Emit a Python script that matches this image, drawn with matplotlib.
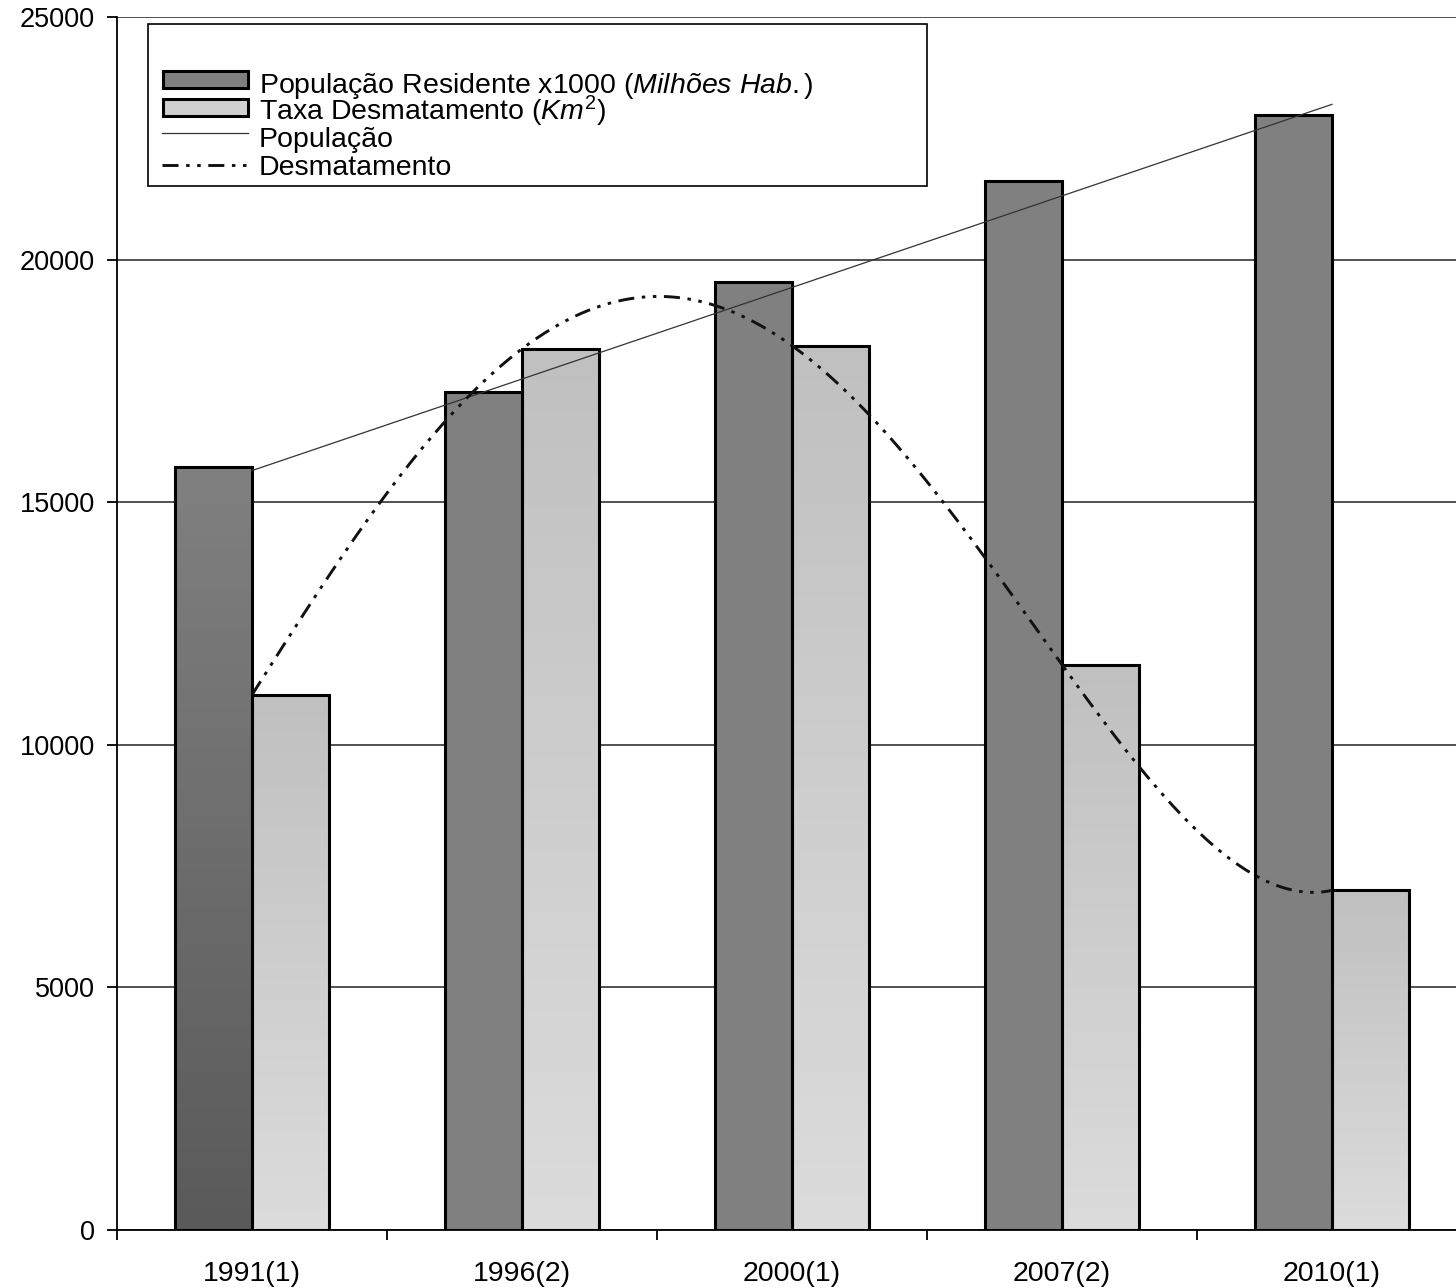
import numpy as np
import matplotlib
matplotlib.use("Agg")
import matplotlib.pyplot as plt
from matplotlib.colors import LinearSegmentedColormap
from matplotlib.patches import Rectangle
from matplotlib.lines import Line2D

plt.rcParams["font.family"] = ["Liberation Sans", "DejaVu Sans"]
plt.rcParams["mathtext.fontset"] = "custom"
plt.rcParams["mathtext.rm"] = "Liberation Sans"
plt.rcParams["mathtext.it"] = "Liberation Sans:italic"

# Data
anos = ["1991(1)", "1996(2)", "2000(1)", "2007(2)", "2010(1)"]
populacao = [15720, 17270, 19540, 21620, 22980]      # x1000 hab.
desmatamento = [11030, 18161, 18226, 11651, 7000]    # km2

x = np.arange(len(anos))
width = 0.285
W, H = 1456, 1288

fig = plt.figure(figsize=(W / 100, H / 100), dpi=100)
ax = fig.add_axes([117 / W, 1 - 1230 / H, 1350 / W, 1213 / H])

# bar fills (gradients), outlines drawn on top
pop_grad = [("#5a5a5a", "#808080")] + [("#808080", "#808080")] * 4
des_grad = [("#dcdcdc", "#c0c0c0")] * 5
grad = np.linspace(0, 1, 256).reshape(-1, 1)

def gradient_bar(x0, h, colors):
    cmap = LinearSegmentedColormap.from_list("g", colors)
    ax.imshow(grad, extent=[x0, x0 + width, 0, h], origin="lower",
              aspect="auto", cmap=cmap, zorder=2)

for i in range(len(x)):
    gradient_bar(x[i] - width, populacao[i], pop_grad[i])
    gradient_bar(x[i], desmatamento[i], des_grad[i])

ax.bar(x - width, populacao, width, align="edge", facecolor="none",
       edgecolor="black", linewidth=2.2, zorder=3)
ax.bar(x, desmatamento, width, align="edge", facecolor="none",
       edgecolor="black", linewidth=2.2, zorder=3)

# trend lines
xs = np.linspace(0, 4, 300)
p_lin = np.polyfit(x, populacao, 1)
ax.plot(xs, np.polyval(p_lin, xs), color="#333333", linewidth=0.9, zorder=4)
p_poly = np.polyfit(x, desmatamento, 4)
dash = (0, (5.5, 2.6, 1.2, 2.6, 1.2, 2.6))
ax.plot(xs, np.polyval(p_poly, xs), color="#111111", linewidth=2.1,
        linestyle=dash, zorder=4)

ax.set_xlim(-0.5, 4.5)
ax.set_ylim(0, 25000)
ax.set_yticks(np.arange(0, 25001, 5000))
ax.set_xticks(x)
ax.set_xticklabels(anos)
ax.set_xticks(np.arange(-0.5, 4.6, 1), minor=True)
ax.tick_params(axis="x", which="major", length=0, pad=22, labelsize=20.5)
ax.tick_params(axis="x", which="minor", length=7, width=1.3, direction="out")
ax.tick_params(axis="y", length=7, width=1.3, pad=9, labelsize=19.5)
ax.grid(axis="y", color="#222222", linewidth=1.1, zorder=0)
ax.set_axisbelow(True)
for s in ["top", "right"]:
    ax.spines[s].set_visible(False)
ax.spines["left"].set_linewidth(1.3)
ax.spines["bottom"].set_linewidth(1.3)

# legend, laid out in pixel positions
def fx(px):
    return px / W

def fy(py):
    return 1 - py / H

fig.add_artist(Rectangle((fx(148), fy(186)), fx(927) - fx(148), fy(24) - fy(186),
                         transform=fig.transFigure, facecolor="white",
                         edgecolor="black", linewidth=1.2, zorder=5))
fig.add_artist(Rectangle((fx(163), fy(88)), fx(85), fy(71) - fy(88),
                         transform=fig.transFigure, facecolor="#808080",
                         edgecolor="black", linewidth=2.2, zorder=6))
fig.add_artist(Rectangle((fx(163), fy(116)), fx(85), fy(99) - fy(116),
                         transform=fig.transFigure, facecolor="#d0d0d0",
                         edgecolor="black", linewidth=2.2, zorder=6))
fig.add_artist(Line2D([fx(162), fx(248)], [fy(133), fy(133)],
                      transform=fig.transFigure, color="#333333",
                      linewidth=0.9, zorder=6))
fig.add_artist(Line2D([fx(162), fx(248)], [fy(165), fy(165)],
                      transform=fig.transFigure, color="#111111",
                      linewidth=2.1, linestyle=dash, zorder=6))

labels = [
    r"População Residente x1000 ($\it{Milhões\ Hab.)}$",
    r"Taxa Desmatamento ($\it{Km}^2$)",
    "População",
    "Desmatamento",
]
baselines = [93, 120, 147, 175]
for lab, b in zip(labels, baselines):
    fig.text(fx(259), fy(b), lab, fontsize=20.5, va="baseline", ha="left",
             zorder=7)

fig.savefig("out.png", dpi=100)
